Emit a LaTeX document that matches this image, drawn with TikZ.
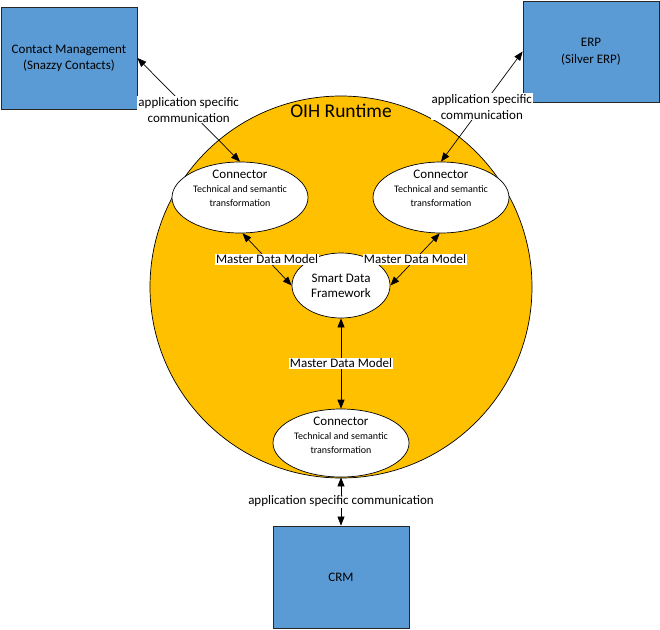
\documentclass[tikz,border=0pt]{standalone}
\usepackage{fontspec}
\setmainfont{Carlito}
\usetikzlibrary{shapes.geometric,arrows.meta,calc}
\definecolor{oihgold}{HTML}{FFC000}
\definecolor{sysblue}{HTML}{5B9BD5}
\newcommand\fsz[2]{\fontsize{#1}{#2}\selectfont}
\begin{document}
\begin{tikzpicture}[x=1pt,y=-1pt,
  sysbox/.style={draw=black!85, fill=sysblue, line width=0.8pt, minimum width=136pt, minimum height=102pt, inner sep=0pt, align=center, font=\fsz{13}{16}},
  connell/.style={ellipse, draw=black, fill=white, line width=0.7pt, minimum width=136pt, minimum height=71pt, inner sep=0pt},
  ctext/.style={font=\fsz{13}{15}, inner sep=0pt},
  csmall/.style={font=\fsz{10}{11}, inner sep=0pt},
  lbl/.style={fill=white, inner sep=1pt, align=center, font=\fsz{13}{16}},
  biarrow/.style={{Triangle[length=9pt,width=7pt]}-{Triangle[length=9pt,width=7pt]}, line width=0.7pt, black}
]
\useasboundingbox (0,0) rectangle (660,629);

% runtime circle
\node[circle, draw=black, fill=oihgold, line width=0.7pt, minimum size=382pt, inner sep=0pt] (oih) at (341,287) {};
\node[font=\fsz{19.5}{22}, inner sep=0pt] (title) at (341,111) {OIH Runtime};

% systems
\node[sysbox] (cm) at (69,58) {Contact Management\\(Snazzy Contacts)};
\node[sysbox, minimum height=101pt, font=\fsz{13}{17.5}] (erp) at (591,51.5) {ERP\\(Silver ERP)};
\node[sysbox] (crm) at (341,577) {CRM};

% connectors
\node[connell] (c1) at (240,197.5) {};
\node[connell] (c2) at (441,197.5) {};
\node[connell, minimum height=68pt] (c3) at (341,443) {};
\foreach \n in {c1,c2,c3}{
  \node[ctext] (\n-a) at ($(\n.north)+(0,13)$) {Connector};
  \node[csmall] (\n-b) at ($(\n.north)+(0,27)$) {Technical and semantic};
  \node[csmall] (\n-c) at ($(\n.north)+(0,41.5)$) {transformation};
}

% smart data framework
\node[ellipse, draw=black, fill=white, line width=0.7pt, minimum width=98pt, minimum height=65pt, inner sep=0pt, align=center, font=\fsz{13}{15}] (sdf) at (341,285.5) {Smart Data\\Framework};

% arrows
\draw[biarrow] (c1.north) -- node[lbl] (l1) {application specific\\communication} (cm.east);
\draw[biarrow] (c2.north) -- node[lbl] (l2) {application specific\\communication} (erp.west);
\draw[biarrow] (c3.south) -- node[lbl] (l3) {application specific communication} (crm.north);
\draw[biarrow] (c1.-86) -- node[lbl] (m1) {Master Data Model} (sdf.west);
\draw[biarrow] (c2.-92) -- node[lbl] (m2) {Master Data Model} (sdf.east);
\draw[biarrow] (sdf.south) -- node[lbl] (m3) {Master Data Model} (c3.north);
\end{tikzpicture}
\end{document}
